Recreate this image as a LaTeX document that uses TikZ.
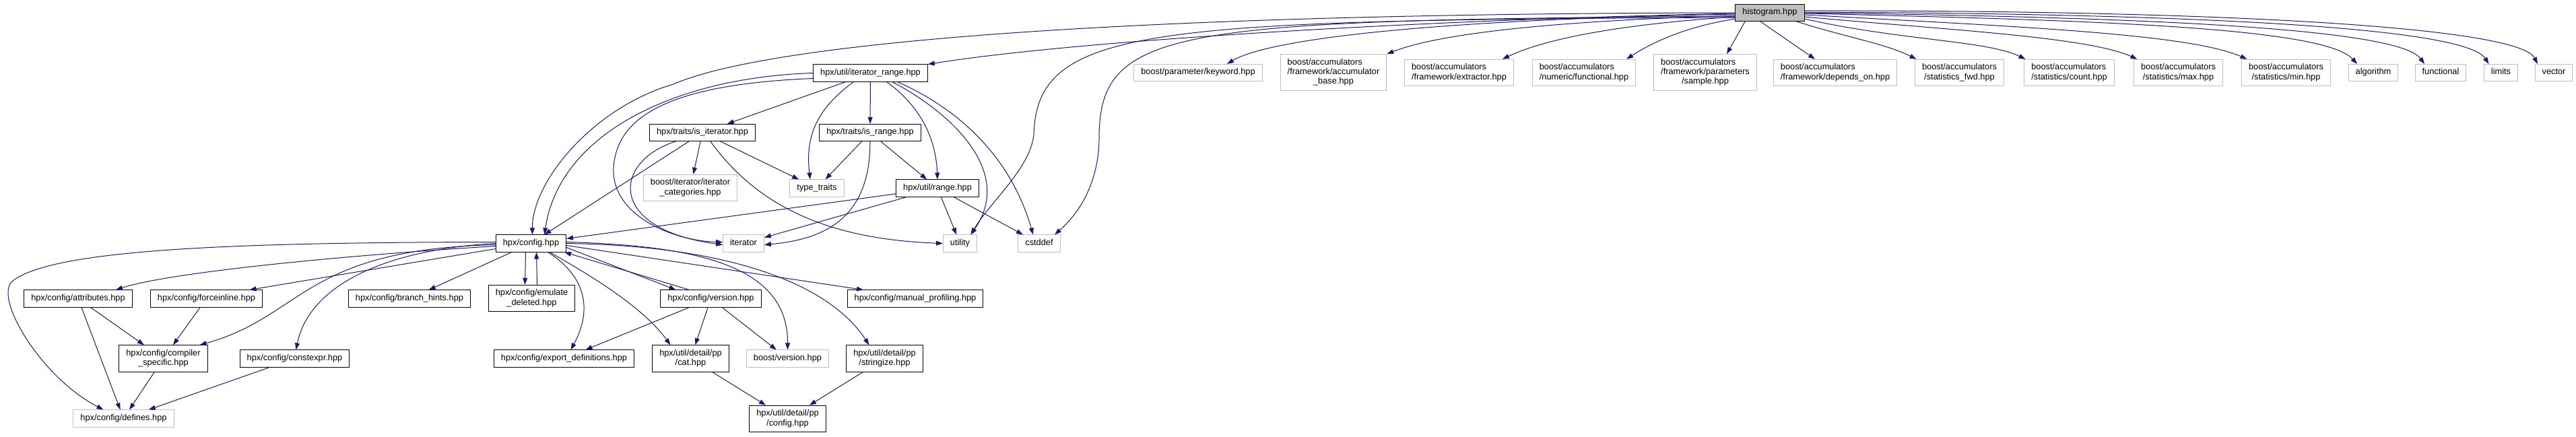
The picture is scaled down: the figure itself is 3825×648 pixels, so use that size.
\documentclass[tikz,border=0pt]{standalone}
\usepackage{fontspec}
\setmainfont{Liberation Sans}
\usetikzlibrary{arrows.meta}

\definecolor{edgeblue}{HTML}{191970}
\definecolor{extgray}{HTML}{BFBFBF}
\newcommand{\flabel}[1]{\begin{tabular}{@{}l@{}}#1\end{tabular}}
\newcommand{\lastline}[1]{\multicolumn{1}{@{}c@{}}{#1}}

\begin{document}
\begin{tikzpicture}[
    x=1pt, y=-1pt,
    box/.style = {
        rectangle,
        line width=1pt,
        inner xsep=10.5pt,
        inner ysep=5.4pt,
        font=\fontsize{12.8}{14.3}\selectfont
    },
    filebox/.style = {box, draw=black, fill=white},
    extbox/.style = {box, draw=extgray, fill=white},
    rootbox/.style = {box, draw=black, fill=extgray},
    incl/.style = {
        draw=edgeblue,
        line width=1pt,
        -{Triangle[length=10pt,width=7pt]}
    }
]

\useasboundingbox [fill=white] (0,0) rectangle (3825,648);

% top row
\node (hist) [rootbox] at (2628,19) {\flabel{histogram.hpp}};
\node (iterrange) [filebox] at (1292.5,108.5) {\flabel{hpx/util/iterator\_range.hpp}};
\node (keyword) [extbox] at (1779,108) {\flabel{boost/parameter/keyword.hpp}};
\node (accbase) [extbox] at (1980,107.5) {\flabel{boost/accumulators\\/framework/accumulator\\\lastline{\_base.hpp}}};
\node (extractor) [extbox] at (2166.5,108) {\flabel{boost/accumulators\\\lastline{/framework/extractor.hpp}}};
\node (numfunc) [extbox] at (2352,108) {\flabel{boost/accumulators\\\lastline{/numeric/functional.hpp}}};
\node (sample) [extbox] at (2532,107.5) {\flabel{boost/accumulators\\/framework/parameters\\\lastline{/sample.hpp}}};
\node (dependson) [extbox] at (2725,108) {\flabel{boost/accumulators\\\lastline{/framework/depends\_on.hpp}}};
\node (statfwd) [extbox] at (2909.5,108) {\flabel{boost/accumulators\\\lastline{/statistics\_fwd.hpp}}};
\node (statcount) [extbox] at (3072.5,108) {\flabel{boost/accumulators\\\lastline{/statistics/count.hpp}}};
\node (statmax) [extbox] at (3234.5,108) {\flabel{boost/accumulators\\\lastline{/statistics/max.hpp}}};
\node (statmin) [extbox] at (3394.5,108) {\flabel{boost/accumulators\\\lastline{/statistics/min.hpp}}};
\node (algorithm) [extbox] at (3524,108) {\flabel{algorithm}};
\node (functional) [extbox] at (3624,108) {\flabel{functional}};
\node (limits) [extbox] at (3713.5,108) {\flabel{limits}};
\node (vector) [extbox] at (3792,108) {\flabel{vector}};

% traits and range
\node (isiter) [filebox] at (1043,197) {\flabel{hpx/traits/is\_iterator.hpp}};
\node (isrange) [filebox] at (1292,197) {\flabel{hpx/traits/is\_range.hpp}};
\node (itercat) [extbox] at (1025,279) {\flabel{boost/iterator/iterator\\\lastline{\_categories.hpp}}};
\node (typetraits) [extbox] at (1213,279.5) {\flabel{type\_traits}};
\node (range) [filebox] at (1392,279.5) {\flabel{hpx/util/range.hpp}};
\node (config) [filebox] at (788.5,361.5) {\flabel{hpx/config.hpp}};
\node (iterator) [extbox] at (1104,361.5) {\flabel{iterator}};
\node (utility) [extbox] at (1425.5,361.5) {\flabel{utility}};
\node (cstddef) [extbox] at (1543,361.5) {\flabel{cstddef}};

% config headers
\node (attributes) [filebox] at (116,443.5) {\flabel{hpx/config/attributes.hpp}};
\node (forceinline) [filebox] at (306.5,443.5) {\flabel{hpx/config/forceinline.hpp}};
\node (branchhints) [filebox] at (608,443.5) {\flabel{hpx/config/branch\_hints.hpp}};
\node (emulate) [filebox] at (789.5,443) {\flabel{hpx/config/emulate\\\lastline{\_deleted.hpp}}};
\node (version) [filebox] at (1055.5,443.5) {\flabel{hpx/config/version.hpp}};
\node (manualprof) [filebox] at (1359,443.5) {\flabel{hpx/config/manual\_profiling.hpp}};
\node (compspec) [filebox] at (242.5,532.5) {\flabel{hpx/config/compiler\\\lastline{\_specific.hpp}}};
\node (constexpr) [filebox] at (437.5,532.5) {\flabel{hpx/config/constexpr.hpp}};
\node (exportdef) [filebox] at (837.5,532.5) {\flabel{hpx/config/export\_definitions.hpp}};
\node (ppcat) [filebox] at (1025.5,532.5) {\flabel{hpx/util/detail/pp\\\lastline{/cat.hpp}}};
\node (boostver) [extbox] at (1169.5,532.5) {\flabel{boost/version.hpp}};
\node (stringize) [filebox] at (1313.5,532.5) {\flabel{hpx/util/detail/pp\\\lastline{/stringize.hpp}}};
\node (defines) [extbox] at (183.5,621.5) {\flabel{hpx/config/defines.hpp}};
\node (ppconfig) [filebox] at (1169.5,622) {\flabel{hpx/util/detail/pp\\\lastline{/config.hpp}}};

% histogram.hpp
\draw [incl] (hist.west) .. controls (1700,20) and (1150,60) .. (1000,125) .. controls (880,160) and (790,270) .. ([xshift=2pt]config.north);
\draw [incl] ([yshift=-1pt]hist.west) .. controls (2100,30) and (1600,60) .. (iterrange.north east);
\draw [incl] ([yshift=-2pt]hist.west) .. controls (2100,30) and (1880,60) .. ([xshift=43pt]keyword.north);
\draw [incl] ([yshift=-4pt]hist.west) .. controls (2350,30) and (2150,45) .. (accbase.north east);
\draw [incl] ([yshift=-6pt]hist.west) .. controls (2420,35) and (2300,55) .. ([xshift=-17pt]extractor.north east);
\draw [incl] ([yshift=-9pt]hist.west) .. controls (2500,40) and (2450,65) .. ([xshift=-14pt]numfunc.north east);
\draw [incl] ([yshift=-7pt]hist.west) .. controls (1700,30) and (1540,40) .. (1535,200) .. controls (1530,250) and (1470,300) .. ([xshift=16pt]utility.north);
\draw [incl] ([yshift=-5pt]hist.west) .. controls (1750,30) and (1635,40) .. (1632,200) .. controls (1633,260) and (1610,310) .. ([xshift=23pt]cstddef.north);
\draw [incl] ([xshift=-37pt]hist.south) -- ([xshift=32pt]sample.north);
\draw [incl] ([xshift=-14pt]hist.south) -- ([xshift=-30pt]dependson.north);
\draw [incl] ([xshift=40pt]hist.south) .. controls (2740,55) and (2800,65) .. ([xshift=-64pt]statfwd.north);
\draw [incl] ([yshift=-9pt]hist.east) .. controls (2820,60) and (2950,60) .. ([xshift=-65pt]statcount.north);
\draw [incl] ([yshift=-6pt]hist.east) .. controls (2900,45) and (3100,55) .. ([xshift=-61pt]statmax.north);
\draw [incl] ([yshift=-3pt]hist.east) .. controls (3000,40) and (3250,50) .. ([xshift=-58pt]statmin.north);
\draw [incl] ([yshift=-1pt]hist.east) .. controls (3100,30) and (3450,40) .. ([xshift=-24pt]algorithm.north);
\draw [incl] (hist.east) .. controls (3150,25) and (3560,40) .. ([xshift=-24pt]functional.north);
\draw [incl] ([yshift=1pt]hist.east) .. controls (3250,20) and (3660,40) .. ([xshift=-18pt]limits.north);
\draw [incl] ([yshift=3pt]hist.east) .. controls (3300,15) and (3740,40) .. ([xshift=-24pt]vector.north);

% iterator_range.hpp
\draw [incl] (iterrange.west) .. controls (1000,115) and (830,200) .. ([xshift=20pt]config.north);
\draw [incl] ([yshift=-8pt]iterrange.west) .. controls (1000,125) and (915,170) .. (911,250) .. controls (908,320) and (1000,358) .. ([yshift=2pt]iterator.west);
\draw [incl] (iterrange) -- (isiter);
\draw [incl] (iterrange) -- (isrange);
\draw [incl] ([xshift=-25pt]iterrange.south) .. controls (1215,160) and (1195,200) .. ([xshift=-10pt]typetraits.north);
\draw [incl] ([xshift=24pt]iterrange.south) .. controls (1370,160) and (1390,210) .. (range.north);
\draw [incl] ([xshift=32pt]iterrange.south) .. controls (1400,160) and (1510,250) .. ([xshift=16pt]utility.north);
\draw [incl] ([xshift=40pt]iterrange.south) .. controls (1420,160) and (1500,230) .. ([xshift=-9pt]cstddef.north);

% traits and range
\draw [incl] (isiter) -- ([xshift=20pt]config.north);
\draw [incl] (isiter) -- (itercat);
\draw [incl] (isiter) -- (typetraits);
\draw [incl] ([xshift=-40pt]isiter.south) .. controls (910,240) and (900,340) .. ([yshift=-2pt]iterator.west);
\draw [incl] ([xshift=12pt]isiter.south) .. controls (1120,300) and (1220,355) .. (utility.west);
\draw [incl] (isrange) -- (typetraits);
\draw [incl] (isrange) -- (range);
\draw [incl] (isrange.south) .. controls (1292,320) and (1230,355) .. ([yshift=-2pt]iterator.east);
\draw [incl] (range) -- (config);
\draw [incl] (range) -- (iterator);
\draw [incl] (range) -- (utility);
\draw [incl] (range) -- (cstddef);

% config.hpp
\draw [incl] ([yshift=2pt]config.west) .. controls (350,360) and (80,370) .. (19,417) .. controls (-11,440) and (60,560) .. ([xshift=-30pt]defines.north);
\draw [incl] ([yshift=-4pt]config.west) .. controls (500,380) and (250,405) .. ([xshift=56pt]attributes.north);
\draw [incl] ([yshift=-8pt]config.west) -- ([xshift=64pt]forceinline.north);
\draw [incl] ([yshift=-2pt]config.west) .. controls (450,370) and (450,470) .. ([xshift=-12pt]compspec.north east);
\draw [incl] (config.west) .. controls (580,370) and (460,420) .. ([xshift=2pt]constexpr.north);
\draw [incl] (config) -- (branchhints);
\draw [incl] ([xshift=-8pt]config.south) -- ([xshift=-10pt]emulate.north);
\draw [incl] ([xshift=8pt]emulate.north) -- ([xshift=8pt]config.south);
\draw [incl] ([xshift=25pt]config.south) .. controls (870,410) and (880,460) .. ([xshift=10pt]exportdef.north);
\draw [incl] ([xshift=28pt]config.south) .. controls (860,400) and (950,450) .. ([xshift=-30pt]ppcat.north);
\draw [incl] ([yshift=-6pt]config.east) -- ([xshift=-52pt]version.north);
\draw [incl] ([xshift=-32pt]version.north) -- ([xshift=-3pt]config.south east);
\draw [incl] ([yshift=2pt]config.east) .. controls (1050,365) and (1170,400) .. (boostver.north);
\draw [incl] (config.east) .. controls (1080,365) and (1230,420) .. ([xshift=-23pt]stringize.north);
\draw [incl] ([yshift=-3pt]config.east) -- ([xshift=-77pt]manualprof.north);

% lower rows
\draw [incl] (attributes) -- (compspec);
\draw [incl] (attributes) -- (defines);
\draw [incl] (forceinline) -- (compspec);
\draw [incl] (compspec) -- (defines);
\draw [incl] (constexpr) -- (defines);
\draw [incl] (version) -- (exportdef);
\draw [incl] (version) -- (ppcat);
\draw [incl] (version) -- (boostver);
\draw [incl] (ppcat) -- (ppconfig);
\draw [incl] (stringize) -- (ppconfig);

\end{tikzpicture}
\end{document}
